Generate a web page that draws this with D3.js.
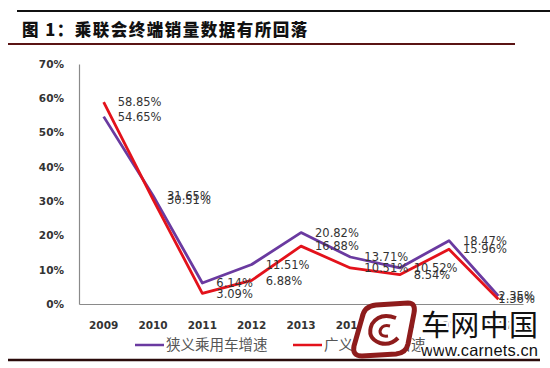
<!DOCTYPE html>
<html>
<head>
<meta charset="utf-8">
<script src="https://cdn.jsdelivr.net/npm/d3@7"></script>
<style>
  body { margin: 0; background: #fff; }
  svg { display: block; }
</style>
</head>
<body>
<div id="chart"></div>
<script>
// Chart data
const years = ["2009", "2010", "2011", "2012", "2013", "2014", "2015", "2016", "2017"];
const narrowGrowth = [54.65, 31.65, 6.14, 11.51, 20.82, 13.71, 10.52, 18.47, 2.35];
const broadGrowth = [58.85, 30.51, 3.09, 6.88, 16.88, 10.51, 8.54, 15.96, 1.36];
const seriesNames = ["狭义乘用车增速", "广义乘用车增速"];
const yTicks = [0, 10, 20, 30, 40, 50, 60, 70];

const W = 550, H = 368;
const svg = d3.select("#chart")
  .append("svg")
  .attr("width", W)
  .attr("height", H);

// Header lines and title
svg.append("line")
  .attr("x1", 17).attr("x2", 550)
  .attr("y1", 11).attr("y2", 11)
  .attr("stroke", "#111").attr("stroke-width", 2);

svg.append("text")
  .attr("x", 22)
  .attr("y", 36)
  .attr("font-family", "'Noto Sans CJK SC', sans-serif")
  .attr("font-weight", 900)
  .attr("font-size", 16.5)
  .attr("letter-spacing", 1.5)
  .attr("fill", "#111")
  .text("图 1：乘联会终端销量数据有所回落");

svg.append("line")
  .attr("x1", 8).attr("x2", 515)
  .attr("y1", 44).attr("y2", 44)
  .attr("stroke", "#5a1414").attr("stroke-width", 2);

// Scales
const x = d3.scaleBand()
  .domain(years)
  .range([79, 523]);

const y = d3.scaleLinear()
  .domain([0, 70])
  .range([304, 64]);

// Axes (no tick marks, just labels and the axis lines)
const yAxis = svg.append("g")
  .attr("transform", "translate(79,0)")
  .call(d3.axisLeft(y).tickValues(yTicks).tickFormat(d => d + "%").tickSize(0).tickPadding(15));
yAxis.select(".domain").attr("stroke", "#8a8a8a").attr("stroke-width", 1.2);
yAxis.selectAll("text")
  .attr("font-family", "'DejaVu Sans', sans-serif")
  .attr("font-weight", "bold")
  .attr("font-size", 10.5)
  .attr("fill", "#333");

const xAxis = svg.append("g")
  .attr("transform", "translate(0,304)")
  .call(d3.axisBottom(x).tickSize(0).tickPadding(18));
xAxis.select(".domain").attr("stroke", "#8a8a8a").attr("stroke-width", 1.2);
xAxis.selectAll("text")
  .attr("font-family", "'DejaVu Sans', sans-serif")
  .attr("font-weight", "bold")
  .attr("font-size", 10.5)
  .attr("fill", "#333");

// Lines
const colors = ["#6a3aa0", "#e3121b"];
const allSeries = [narrowGrowth, broadGrowth];

const line = d3.line()
  .x((d, i) => x(years[i]) + x.bandwidth() / 2)
  .y(d => y(d));

allSeries.forEach((values, k) => {
  svg.append("path")
    .datum(values)
    .attr("fill", "none")
    .attr("stroke", colors[k])
    .attr("stroke-width", 2.8)
    .attr("stroke-linejoin", "round")
    .attr("d", line);
});

// Data labels, placed to the right of each point (last one pulled in)
allSeries.forEach((values, k) => {
  svg.append("g")
    .selectAll("text")
    .data(values)
    .enter()
    .append("text")
    .attr("x", (d, i) => x(years[i]) + x.bandwidth() / 2 + (i === years.length - 1 ? 0 : 14))
    .attr("y", d => y(d))
    .attr("dy", "0.36em")
    .attr("font-family", "'DejaVu Sans', sans-serif")
    .attr("font-size", 11.5)
    .attr("fill", "#333")
    .text(d => d.toFixed(2) + "%");
});

// Legend
const legend = svg.append("g");
const legendX = [135, 293];
seriesNames.forEach((name, k) => {
  legend.append("line")
    .attr("x1", legendX[k]).attr("x2", legendX[k] + 29)
    .attr("y1", 345).attr("y2", 345)
    .attr("stroke", colors[k]).attr("stroke-width", 2.5);
  legend.append("text")
    .attr("x", legendX[k] + 31)
    .attr("y", 350)
    .attr("font-family", "'Noto Sans CJK SC', sans-serif")
    .attr("font-size", 14.5)
    .attr("fill", "#555")
    .text(name);
});

// Bottom rule
svg.append("line")
  .attr("x1", 8).attr("x2", 540)
  .attr("y1", 360).attr("y2", 360)
  .attr("stroke", "#2a0a0a").attr("stroke-width", 2.5);

// Watermark (white halo hides what lies beneath, as in the source image)
const wm = svg.append("g");
wm.append("path")
  .attr("d", "M362,318 Q364,306 376,305 L408,303 Q416,303 414,313 L408,344 Q406,353 396,354 L362,356 Q352,356 354,346 Z")
  .attr("fill", "#fff")
  .attr("stroke", "#8e1c1c")
  .attr("stroke-width", 5);
wm.append("path")
  .attr("d", "M396,318 Q380,312 372,324 Q366,338 380,343 Q390,346 398,338")
  .attr("fill", "none")
  .attr("stroke", "#8e1c1c")
  .attr("stroke-width", 4);
wm.append("path")
  .attr("d", "M390,326 Q382,324 380,331 Q380,337 388,336")
  .attr("fill", "none")
  .attr("stroke", "#8e1c1c")
  .attr("stroke-width", 3);
wm.append("text")
  .attr("x", 421)
  .attr("y", 336)
  .attr("font-family", "'Noto Sans CJK SC', sans-serif")
  .attr("font-size", 29)
  .attr("fill", "#111")
  .attr("stroke", "#fff")
  .attr("stroke-width", 5)
  .attr("paint-order", "stroke")
  .attr("textLength", 117)
  .text("车网中国");
wm.append("text")
  .attr("x", 421)
  .attr("y", 356)
  .attr("font-family", "'Liberation Sans', Arial, sans-serif")
  .attr("font-size", 16.5)
  .attr("fill", "#111")
  .attr("stroke", "#fff")
  .attr("stroke-width", 3)
  .attr("paint-order", "stroke")
  .attr("textLength", 117)
  .text("www.carnets.cn");
</script>
</body>
</html>
